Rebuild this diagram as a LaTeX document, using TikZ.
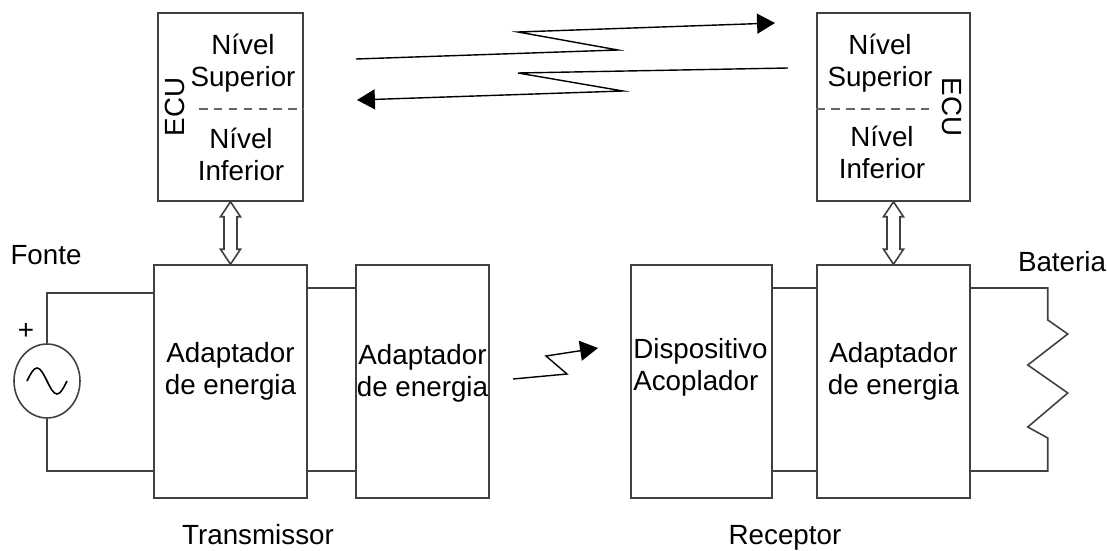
\documentclass[tikz,border=0pt]{standalone}
\usepackage{fontspec}
\setmainfont{Liberation Sans}
\usepackage{tikz}
\usetikzlibrary{arrows.meta,calc,shapes.geometric}
\definecolor{edge-gray}{RGB}{64,64,64}
\tikzstyle{block}=[draw=edge-gray, line width=0.9pt, inner sep=0pt, minimum height=4.66cm]
\tikzstyle{ecubox}=[draw=edge-gray, line width=0.9pt, inner sep=0pt, minimum height=3.76cm]
\tikzstyle{txt}=[font=\fontsize{15.8}{18.2}\selectfont, inner sep=0pt, align=center]
\tikzstyle{wire}=[draw=edge-gray, line width=0.9pt]
\tikzstyle{signal}=[line width=0.8pt, -{Triangle[length=10.2pt,width=11.4pt]}]
\tikzstyle{levelsep}=[draw=edge-gray!80, line width=0.8pt, dash pattern=on 5pt off 3.5pt]
\newcommand{\dualArrow}[2]{
	\draw[wire, fill=white] (#1.south) -- ($(#1.south)+(10,15)$) -- ($(#1.south)+(6.5,15)$) -- ($(#2.north)+(6.5,-15)$) -- ($(#2.north)+(10,-15)$) -- (#2.north) -- ($(#2.north)+(-10,-15)$) -- ($(#2.north)+(-6.5,-15)$) -- ($(#1.south)+(-6.5,15)$) -- ($(#1.south)+(-10,15)$) -- cycle;
}
\begin{document}
\begin{tikzpicture}[x=0.02cm, y=-0.02cm]
	\useasboundingbox (0,0) rectangle (1107,551);
	\node[ecubox, minimum width=2.9cm] (ecuL) at (230.5,107) {};
	\node[ecubox, minimum width=3.06cm] (ecuR) at (893.5,107) {};
	\node[block, minimum width=3.06cm] (adpL) at (230.5,381.5) {};
	\node[block, minimum width=2.66cm] (adpM) at (422.5,381.5) {};
	\node[block, minimum width=2.82cm] (coupler) at (701.5,381.5) {};
	\node[block, minimum width=3.06cm] (adpR) at (893.5,381.5) {};
	\node[ellipse, draw=edge-gray, line width=0.9pt, minimum width=1.32cm, minimum height=1.48cm, inner sep=0pt] (src) at (47,381) {};
	\draw[levelsep] ($(ecuL.east)+(-105,2)$) -- ($(ecuL.east)+(0,2)$);
	\draw[levelsep] ($(ecuR.west)+(0,2)$) -- ($(ecuR.west)+(113,2)$);
	\node[txt] (supL) at (243,63) {Nível\\Superior};
	\node[txt] (infL) at (241,154) {Nível\\Inferior};
	\node[txt] (supR) at (880,63) {Nível\\Superior};
	\node[txt] (infR) at (882,152) {Nível\\Inferior};
	\node[txt, rotate=90] (ecuLtxt) at (175,107) {ECU};
	\node[txt, rotate=-90] (ecuRtxt) at (952,107) {ECU};
	\node[txt] at (adpL.center) [yshift=0.21cm] {Adaptador\\de energia};
	\node[txt] at (adpM.center) [yshift=0.17cm] {Adaptador\\de energia};
	\node[txt] at (adpR.center) [yshift=0.21cm] {Adaptador\\de energia};
	\node[txt, align=left, anchor=west] (coupTxt) at (633,367) {Dispositivo\\Acoplador};
	\node[txt] (fonte) at (46,255) {Fonte};
	\node[txt] (plus) at (26,331) {+};
	\node[txt] (tx) at (258,535) {Transmissor};
	\node[txt] (rx) at (785,538) {Receptor};
	\node[txt] (bat) at (1062,262) {Bateria};
	\dualArrow{ecuL}{adpL}
	\dualArrow{ecuR}{adpR}
	\draw[wire] ($(adpL.west)+(0,-88.5)$) -| (src.north);
	\draw[wire] (src.south) |- ($(adpL.west)+(0,89.5)$);
	\draw[line width=0.9pt] ($(src.center)+(-20,0)$) sin ++(10,-13) cos ++(10,13) sin ++(10,13) cos ++(10,-13);
	\draw[wire] ($(adpL.east)+(0,-93.5)$) -- ($(adpM.west)+(0,-93.5)$);
	\draw[wire] ($(adpL.east)+(0,89.5)$) -- ($(adpM.west)+(0,89.5)$);
	\draw[wire] ($(coupler.east)+(0,-93.5)$) -- ($(adpR.west)+(0,-93.5)$);
	\draw[wire] ($(coupler.east)+(0,89.5)$) -- ($(adpR.west)+(0,89.5)$);
	\draw[wire] ($(adpR.east)+(0,-93.5)$) -- ++(77,0) -- ++(0,32) -- ++(20,14) -- ++(-40,31) -- ++(40,28) -- ++(-40,34) -- ++(20,11) |- ($(adpR.east)+(0,89.5)$);
	\coordinate (upStart) at (356,59);
	\coordinate (upEnd) at (775,23);
	\coordinate (downStart) at (788,68);
	\coordinate (downEnd) at (357,100);
	\coordinate (linkStart) at (513,379);
	\coordinate (linkEnd) at (598,348);
	\draw[signal] (upStart) -- (618,50) -- (518,32) -- (upEnd);
	\draw[signal] (downStart) -- (518,73) -- (623,91) -- (downEnd);
	\draw[signal] (linkStart) -- (567,374) -- (546,356) -- (linkEnd);
\end{tikzpicture}
\end{document}
